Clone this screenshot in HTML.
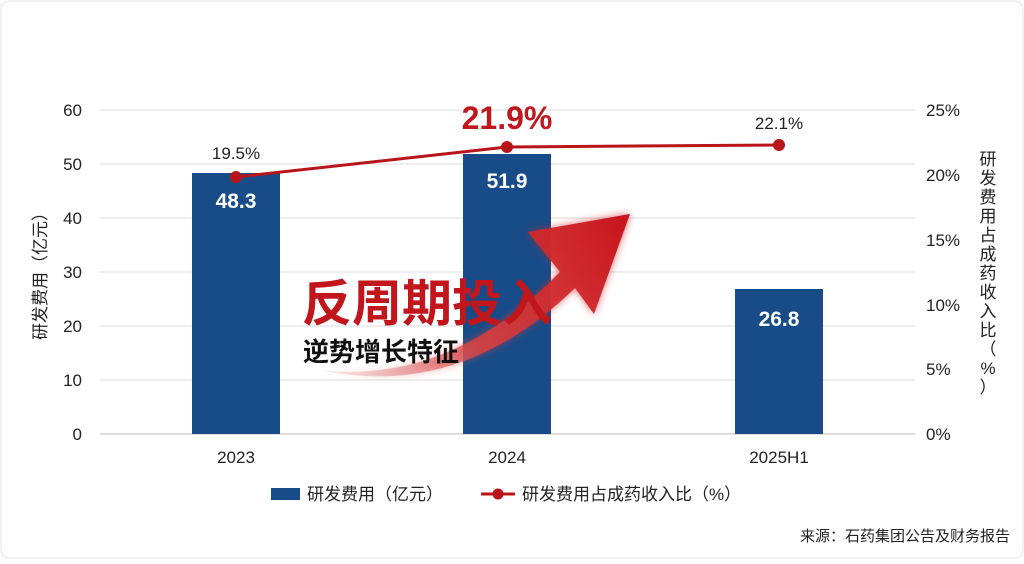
<!DOCTYPE html>
<html><head><meta charset="utf-8"><style>
body{margin:0;background:#fff;}
svg text{font-family:"Liberation Sans","Noto Sans CJK SC",sans-serif;}
</style></head><body>
<svg width="1024" height="559" viewBox="0 0 1024 559" xmlns="http://www.w3.org/2000/svg">
<defs>
<linearGradient id="ag" x1="320" y1="370" x2="630" y2="215" gradientUnits="userSpaceOnUse">
<stop offset="0" stop-color="#e8a0a0" stop-opacity="0.2"/>
<stop offset="0.45" stop-color="#d84040" stop-opacity="0.85"/>
<stop offset="1" stop-color="#c8141a"/>
</linearGradient>
<filter id="bl"><feGaussianBlur stdDeviation="4"/></filter>
</defs>
<rect x="1" y="1" width="1022" height="557" rx="8" fill="#fff" stroke="#e6e6e6"/>
<g stroke="#dcdcdc" stroke-width="1">
<line x1="100" x2="915" y1="110" y2="110"/><line x1="100" x2="915" y1="164" y2="164"/>
<line x1="100" x2="915" y1="218" y2="218"/><line x1="100" x2="915" y1="272" y2="272"/>
<line x1="100" x2="915" y1="326" y2="326"/><line x1="100" x2="915" y1="380" y2="380"/>
<line x1="100" x2="915" y1="434" y2="434" stroke="#bbb"/>
</g>
<g font-size="17" fill="#222" text-anchor="end">
<text x="82" y="116">60</text><text x="82" y="170">50</text><text x="82" y="224">40</text>
<text x="82" y="278">30</text><text x="82" y="332">20</text><text x="82" y="386">10</text><text x="82" y="440">0</text>
</g>
<g font-size="17" fill="#222" text-anchor="start">
<text x="926" y="116">25%</text><text x="926" y="181">20%</text><text x="926" y="246">15%</text>
<text x="926" y="311">10%</text><text x="926" y="375">5%</text><text x="926" y="440">0%</text>
</g>
<text transform="translate(46,272) rotate(-90)" font-size="17" fill="#222" text-anchor="middle">研发费用（亿元）</text>
<text font-size="17" fill="#222" text-anchor="middle"><tspan x="988" y="165">研</tspan><tspan x="988" y="184">发</tspan><tspan x="988" y="203">费</tspan><tspan x="988" y="222">用</tspan><tspan x="988" y="241">占</tspan><tspan x="988" y="260">成</tspan><tspan x="988" y="279">药</tspan><tspan x="988" y="298">收</tspan><tspan x="988" y="317">入</tspan><tspan x="988" y="336">比</tspan><tspan x="988" y="355">（</tspan><tspan x="988" y="374">%</tspan><tspan x="988" y="393">）</tspan></text>
<rect x="192" y="173" width="88" height="261" fill="#184c88"/>
<rect x="463" y="154" width="88" height="280" fill="#184c88"/>
<rect x="735" y="289" width="88" height="145" fill="#184c88"/>
<g font-size="21" font-weight="bold" fill="#fff" text-anchor="middle">
<text x="236" y="208">48.3</text><text x="507" y="188">51.9</text><text x="779" y="326">26.8</text>
</g>
<g font-size="17" fill="#222" text-anchor="middle">
<text x="236" y="463">2023</text><text x="507" y="463">2024</text><text x="779" y="463">2025H1</text>
</g>
<path d="M320,370 Q450,385 560,272 L528,232 L630,214 L594,314 L575,288 Q460,400 320,370 Z" fill="url(#ag)" filter="url(#bl)" opacity="0.7"/>
<path d="M320,370 Q450,385 560,272 L528,232 L630,214 L594,314 L575,288 Q460,400 320,370 Z" fill="url(#ag)"/>
<polyline points="236,177 507,147 779,145" fill="none" stroke="#b8141a" stroke-width="3"/>
<circle cx="236" cy="177" r="6" fill="#b8141a"/><circle cx="507" cy="147" r="6" fill="#b8141a"/><circle cx="779" cy="145" r="6" fill="#b8141a"/>
<text x="236" y="159" font-size="17" fill="#222" text-anchor="middle">19.5%</text>
<text x="507" y="129" font-size="32" font-weight="bold" fill="#c0161c" text-anchor="middle">21.9%</text>
<text x="779" y="129" font-size="17" fill="#222" text-anchor="middle">22.1%</text>
<text x="302" y="321" font-size="50" font-weight="bold" fill="#c0161c" font-family="'Noto Sans CJK SC',sans-serif">反周期投入</text>
<text x="303" y="361" font-size="26" font-weight="bold" fill="#111" font-family="'Noto Sans CJK SC',sans-serif">逆势增长特征</text>
<rect x="271" y="488" width="29" height="12" fill="#184c88"/>
<text x="307" y="500" font-size="17" fill="#222">研发费用（亿元）</text>
<line x1="481" x2="515" y1="494" y2="494" stroke="#b8141a" stroke-width="3"/>
<circle cx="498" cy="494" r="5.5" fill="#b8141a"/>
<text x="522" y="500" font-size="17" fill="#222">研发费用占成药收入比（%）</text>
<text x="1010" y="541" font-size="15" fill="#222" text-anchor="end">来源：石药集团公告及财务报告</text>
</svg>
</body></html>
